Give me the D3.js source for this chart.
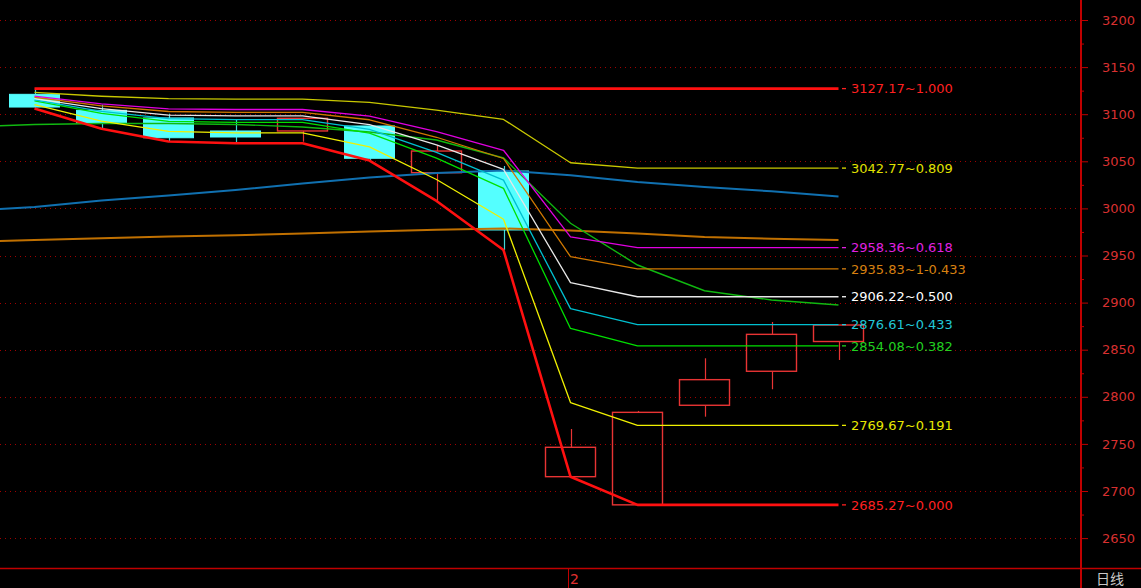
<!DOCTYPE html>
<html><head><meta charset="utf-8">
<script src="https://cdn.jsdelivr.net/npm/d3@7/dist/d3.min.js"></script>
<style>html,body{margin:0;padding:0;background:#000;overflow:hidden}</style>
</head><body>
<svg id="c" width="1141" height="588"></svg>
<script>
// ---- data ----
const candleIndex = [0,1,2,3,4,5,6,7,8,9,10,11,12];
const opens  = [3121.1, 3104.1, 3096.0, 3082.2, 3082.2, 3087.5, 3037.9, 3039.7, 2715.2, 2685.3, 2791.0, 2827.1, 2858.7];
const closes = [3107.6, 3090.7, 3075.0, 3075.8, 3095.6, 3053.2, 3060.9, 2977.1, 2746.4, 2783.5, 2818.2, 2866.3, 2876.2];
const highs  = [3127.17,3110.1, 3100.5, 3093.8, 3096.0, 3087.5, 3067.3, 3045.0, 2765.8, 2785.0, 2840.9, 2879.4, 2876.2];
const lows   = [3106.0, 3084.6, 3071.0, 3069.1, 3070.8, 3050.8, 3007.9, 2955.8, 2715.2, 2685.27,2778.9, 2808.0, 2839.1];

// moving-average lines (index -1 is the bar just left of the view)
const maIndex = [-1,0,1,2,3,4,5,6,7,8,9,10,11,12];
const maBlue   = [2997.2,3001.5,3008.4,3013.7,3019.5,3026.4,3032.8,3037.6,3040.2,3035.1,3028.0,3022.7,3018.2,3012.7];
const maOrange = [2964.3,2966.5,2968.4,2970.1,2971.5,2973.4,2975.5,2977.3,2978.7,2976.5,2973.4,2969.6,2967.9,2966.5];
const maGreen  = [3086.4,3089.1,3090.1,3090.1,3089.1,3086.4,3081.1,3072.6,3053.5,2984.2,2939.9,2912.6,2902.8,2897.5];

// golden-section levels
const levelRatios = [1.000, 0.809, 0.618, 0.567, 0.500, 0.433, 0.382, 0.191, 0.000];
const levelNames  = ["1.000","0.809","0.618","1-0.433","0.500","0.433","0.382","0.191","0.000"];
const levelValues = [3127.17, 3042.77, 2958.36, 2935.83, 2906.22, 2876.61, 2854.08, 2769.67, 2685.27];
const levelColors = ["#ff1010","#c8c800","#e000e0","#d07800","#e8e8e8","#00c0d0","#00e000","#f0f000","#ff1010"];
const labelColors = ["#ff2020","#e0e000","#e020e0","#d88010","#ffffff","#20c8d8","#20d020","#e8e800","#ff2020"];

const yTicks = [2650,2700,2750,2800,2850,2900,2950,3000,3050,3100,3150,3200];
const yMinorTicks = [2675,2725,2775,2825,2875,2925,2975,3025,3075,3125,3175];
const monthTickIndex = [8];
const monthTickLabels = ["2"];
const periodLabel = "日线";

// ---- layout ----
const W = 1141, H = 588;
const axisX = 1081, baseY = 568;
const x = d3.scaleLinear().domain([0, 12]).range([34.5, 838.5]);
const y = d3.scaleLinear().domain([2650, 3200]).range([538.1, 20]);
const halfBody = 25;

const svg = d3.select("#c");
svg.append("rect").attr("width", W).attr("height", H).attr("fill", "#000");

svg.append("defs").append("clipPath").attr("id", "plot")
  .append("rect").attr("x", 0).attr("y", 0).attr("width", axisX - 1).attr("height", baseY);

// grid
svg.append("g").selectAll("line").data(yTicks).join("line")
  .attr("x1", 0).attr("x2", axisX - 2)
  .attr("y1", d => Math.round(y(d)) + 0.5).attr("y2", d => Math.round(y(d)) + 0.5)
  .attr("stroke", "#a00000").attr("stroke-width", 1)
  .attr("stroke-dasharray", "1,4").attr("shape-rendering", "crispEdges");

const plot = svg.append("g").attr("clip-path", "url(#plot)");

// candles
const cg = plot.append("g");
candleIndex.forEach(i => {
  const o = opens[i], c = closes[i], h = highs[i], l = lows[i];
  const up = c >= o;
  const col = up ? "#e83434" : "#54ffff";
  const wcol = up ? "#e83434" : "#40d8d8";
  const top = y(Math.max(o, c)), bot = y(Math.min(o, c));
  const cx = Math.round(x(i)) + 0.5;
  cg.append("line").attr("x1", cx).attr("x2", cx).attr("y1", y(h)).attr("y2", top)
    .attr("stroke", wcol).attr("stroke-width", 1.2);
  cg.append("line").attr("x1", cx).attr("x2", cx).attr("y1", bot).attr("y2", y(l))
    .attr("stroke", wcol).attr("stroke-width", 1.2);
  cg.append("rect")
    .attr("x", x(i) - halfBody).attr("width", halfBody * 2)
    .attr("y", top).attr("height", Math.max(1, bot - top))
    .attr("fill", up ? "none" : col)
    .attr("stroke", col).attr("stroke-width", up ? 1.4 : 1);
});

// MA lines
const maLine = d3.line().x((d, k) => x(maIndex[k])).y(d => y(d));
[[maOrange, "#c07000", 2], [maBlue, "#1070b0", 2], [maGreen, "#10b810", 1.4]].forEach(([arr, col, w]) => {
  plot.append("path").attr("d", maLine(arr)).attr("fill", "none")
    .attr("stroke", col).attr("stroke-width", w);
});

// running floor / ceiling of the swing
const floorLine = [], ceilLine = [];
candleIndex.forEach(i => {
  floorLine.push(i === 0 ? lows[0] : Math.min(floorLine[i - 1], lows[i]));
  ceilLine.push(i === 0 ? highs[0] : Math.max(ceilLine[i - 1], highs[i]));
});

const lvLine = d3.line().x((d, k) => x(candleIndex[k])).y(d => y(d));
const order = [7, 6, 5, 4, 3, 2, 1, 0, 8];
order.forEach(j => {
  const r = levelRatios[j];
  const pts = candleIndex.map(i => floorLine[i] + r * (ceilLine[i] - floorLine[i]));
  const thick = (r === 1 || r === 0);
  plot.append("path").attr("d", lvLine(pts)).attr("fill", "none")
    .attr("stroke", levelColors[j]).attr("stroke-width", thick ? 2.6 : 1.3)
    .attr("stroke-linejoin", "round");
});

// level labels
const lg = svg.append("g");
levelValues.forEach((v, j) => {
  const yy = y(v);
  lg.append("line").attr("x1", x(12) + 3.5).attr("x2", x(12) + 7.5)
    .attr("y1", yy).attr("y2", yy).attr("stroke", labelColors[j]).attr("stroke-width", 1.3);
  lg.append("text").attr("x", x(12) + 12.5).attr("y", yy).attr("dy", "0.36em")
    .attr("fill", labelColors[j]).attr("font-family", "DejaVu Sans, sans-serif")
    .attr("font-size", 13).text(v.toFixed(2) + "~" + levelNames[j]);
});

// right axis
const axis = d3.axisRight(y).tickValues(yTicks).tickSize(7).tickPadding(14)
  .tickFormat(d3.format("d"));
const ag = svg.append("g").attr("transform", `translate(${axisX},0)`).call(axis);
ag.select(".domain").remove();
ag.selectAll(".tick line").attr("stroke", "#c00000").attr("stroke-width", 1);
ag.selectAll(".tick text").attr("fill", "#d83030")
  .attr("font-family", "DejaVu Sans, sans-serif").attr("font-size", 13);
const minorAxis = d3.axisRight(y).tickValues(yMinorTicks).tickSize(3).tickFormat("");
const mg = svg.append("g").attr("transform", `translate(${axisX},0)`).call(minorAxis);
mg.select(".domain").remove();
mg.selectAll(".tick line").attr("stroke", "#c00000");

// frame lines
svg.append("line").attr("x1", 0).attr("x2", W).attr("y1", baseY + 0.5).attr("y2", baseY + 0.5)
  .attr("stroke", "#c00000").attr("stroke-width", 1.6);
svg.append("line").attr("x1", axisX).attr("x2", axisX).attr("y1", 0).attr("y2", H)
  .attr("stroke", "#c00000").attr("stroke-width", 2);

// bottom time axis
monthTickIndex.forEach((i, k) => {
  const tx = Math.round(x(i)) - 2.5;
  svg.append("line").attr("x1", tx).attr("x2", tx).attr("y1", baseY).attr("y2", H)
    .attr("stroke", "#c00000").attr("stroke-width", 1);
  svg.append("text").attr("x", tx + 1.5).attr("y", 584).attr("fill", "#e03030")
    .attr("font-family", "DejaVu Sans, sans-serif").attr("font-size", 14).text(monthTickLabels[k]);
});
svg.append("text").attr("x", 1096).attr("y", 584).attr("fill", "#c8c8c8")
  .attr("font-family", "Noto Sans CJK SC, sans-serif").attr("font-size", 14).text(periodLabel);
</script>
</body></html>
